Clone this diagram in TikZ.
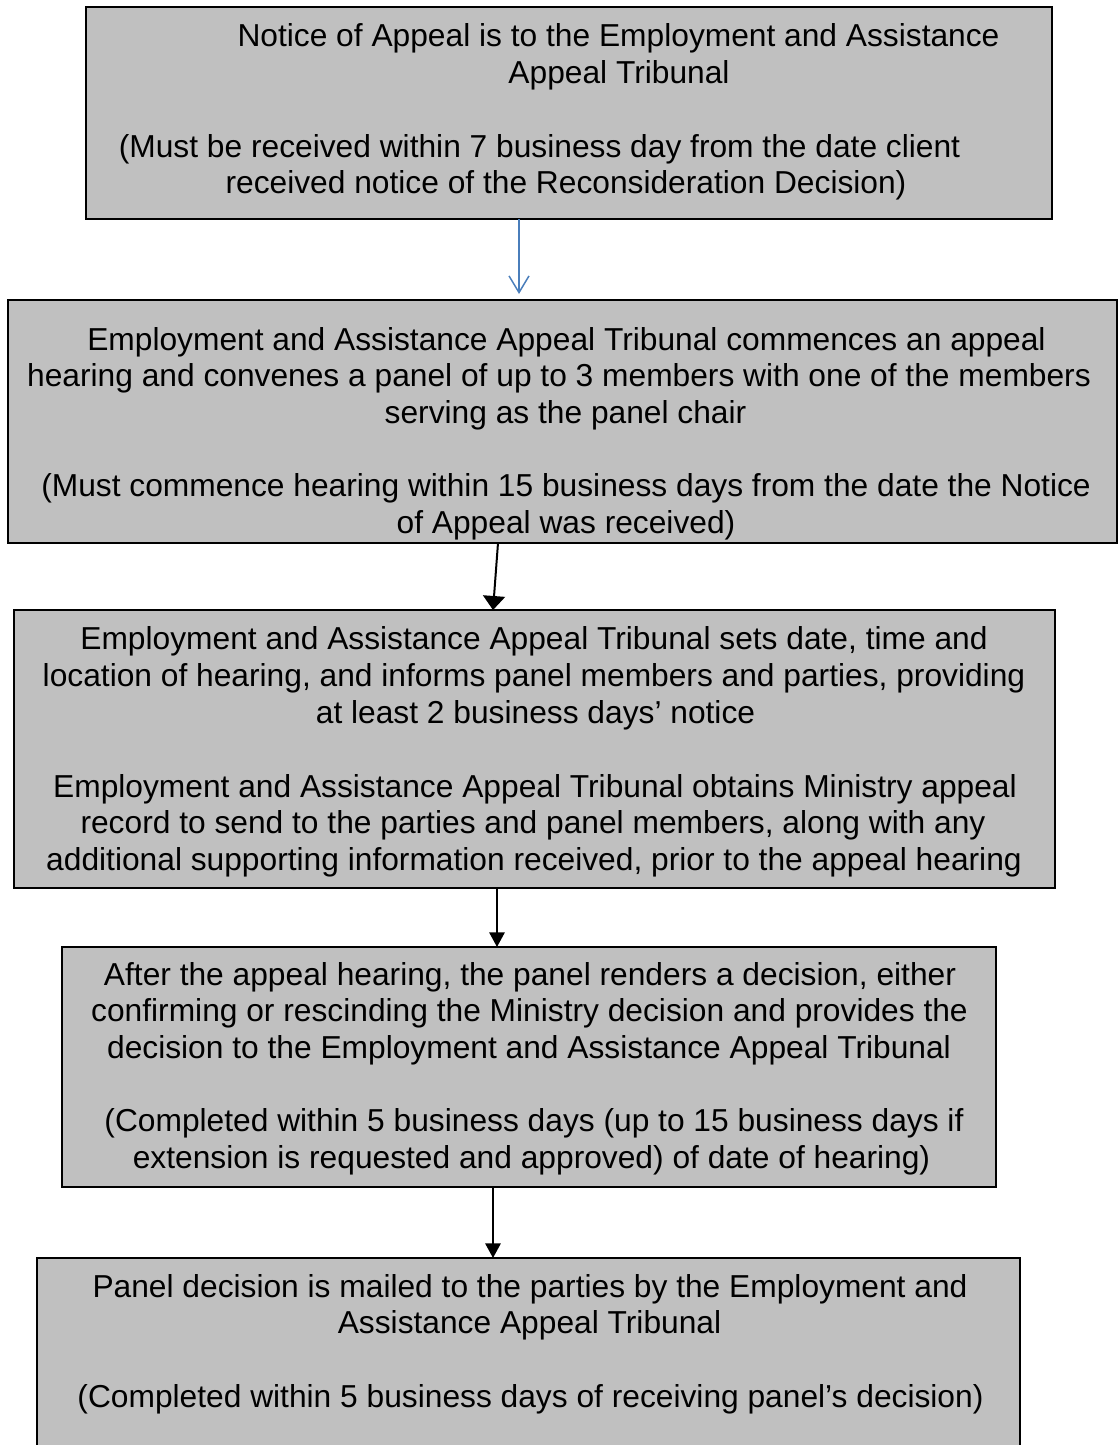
\documentclass[tikz,border=0pt]{standalone}
\usepackage{fontspec}
\setmainfont{Liberation Sans}
\usetikzlibrary{arrows.meta}
\definecolor{boxgray}{HTML}{C0C0C0}
\definecolor{arrowblue}{HTML}{4A7EBB}
\begin{document}
\begin{tikzpicture}[x=0.75pt,y=-0.75pt,
  box/.style={draw=black, fill=boxgray, line width=1.5pt, rectangle, inner sep=0pt, outer sep=0pt},
  txt/.style={anchor=base, inner sep=0pt, outer sep=0pt, font=\fontsize{23.8pt}{28pt}\selectfont},
  blk/.style={draw=black, line width=1.5pt, -{Triangle[length=11pt,width=11.5pt]}},
  blu/.style={draw=arrowblue, line width=1.1pt, -{Straight Barb[length=12.5pt,width=15pt]}, shorten >=4.5pt}]
\useasboundingbox (0,0) rectangle (1120,1445);
\clip (0,0) rectangle (1120,1445);

% boxes
\node[box, line width=2.2pt, minimum width=724.5pt, minimum height=159pt] (b1) at (569,113) {};
\node[box, minimum width=831.75pt, minimum height=182.25pt] (b2) at (562.5,421.5) {};
\node[box, minimum width=780.75pt, minimum height=208.5pt] (b3) at (534.5,749) {};
\node[box, minimum width=700.5pt, minimum height=180pt] (b4) at (529,1067) {};
\node[box, minimum width=737.25pt, minimum height=151.5pt] (b5) at (528.5,1359) {};

% box 1 text
\node[txt] (t1a) at (618.5,47) {Notice of Appeal is to the Employment and Assistance};
\node[txt] (t1b) at (619,83.5) {Appeal Tribunal};
\node[txt] (t1c) at (539.5,157) {(Must be received within 7 business day from the date client};
\node[txt] (t1d) at (566,193) {received notice of the Reconsideration Decision)};

% box 2 text
\node[txt] (t2a) at (566.5,350) {Employment and Assistance Appeal Tribunal commences an appeal};
\node[txt] (t2b) at (559,386.6) {hearing and convenes a panel of up to 3 members with one of the members};
\node[txt] (t2c) at (565.5,423.2) {serving as the panel chair};
\node[txt] (t2d) at (566,496.4) {(Must commence hearing within 15 business days from the date the Notice};
\node[txt] (t2e) at (566,533) {of Appeal was received)};

% box 3 text
\node[txt] (t3a) at (534,649) {Employment and Assistance Appeal Tribunal sets date, time and};
\node[txt] (t3b) at (534,686) {location of hearing, and informs panel members and parties, providing};
\node[txt] (t3c) at (535.5,723) {at least 2 business days’ notice};
\node[txt] (t3d) at (535,797) {Employment and Assistance Appeal Tribunal obtains Ministry appeal};
\node[txt] (t3e) at (533,833.5) {record to send to the parties and panel members, along with any};
\node[txt] (t3f) at (534,870) {additional supporting information received, prior to the appeal hearing};

% box 4 text
\node[txt] (t4a) at (530,985) {After the appeal hearing, the panel renders a decision, either};
\node[txt] (t4b) at (529.5,1021.7) {confirming or rescinding the Ministry decision and provides the};
\node[txt] (t4c) at (529,1058.3) {decision to the Employment and Assistance Appeal Tribunal};
\node[txt] (t4d) at (534,1131.6) {(Completed within 5 business days (up to 15 business days if};
\node[txt] (t4e) at (531.5,1168.3) {extension is requested and approved) of date of hearing)};

% box 5 text
\node[txt] (t5a) at (530,1297) {Panel decision is mailed to the parties by the Employment and};
\node[txt] (t5b) at (529.5,1333.7) {Assistance Appeal Tribunal};
\node[txt] (t5c) at (530.5,1407) {(Completed within 5 business days of receiving panel’s decision)};

% connectors
\draw[blu] ([xshift=-37.5pt]b1.south) -- ([xshift=-32.625pt]b2.north);
\draw[blk, -{Triangle[length=10.5pt,width=16.5pt]}] ([xshift=-48.375pt]b2.south) -- ([xshift=-31.125pt]b3.north);
\draw[blk] ([xshift=-28.125pt]b3.south) -- ([xshift=-24pt]b4.north);
\draw[blk] ([xshift=-27pt]b4.south) -- ([xshift=-26.625pt]b5.north);
\end{tikzpicture}
\end{document}
